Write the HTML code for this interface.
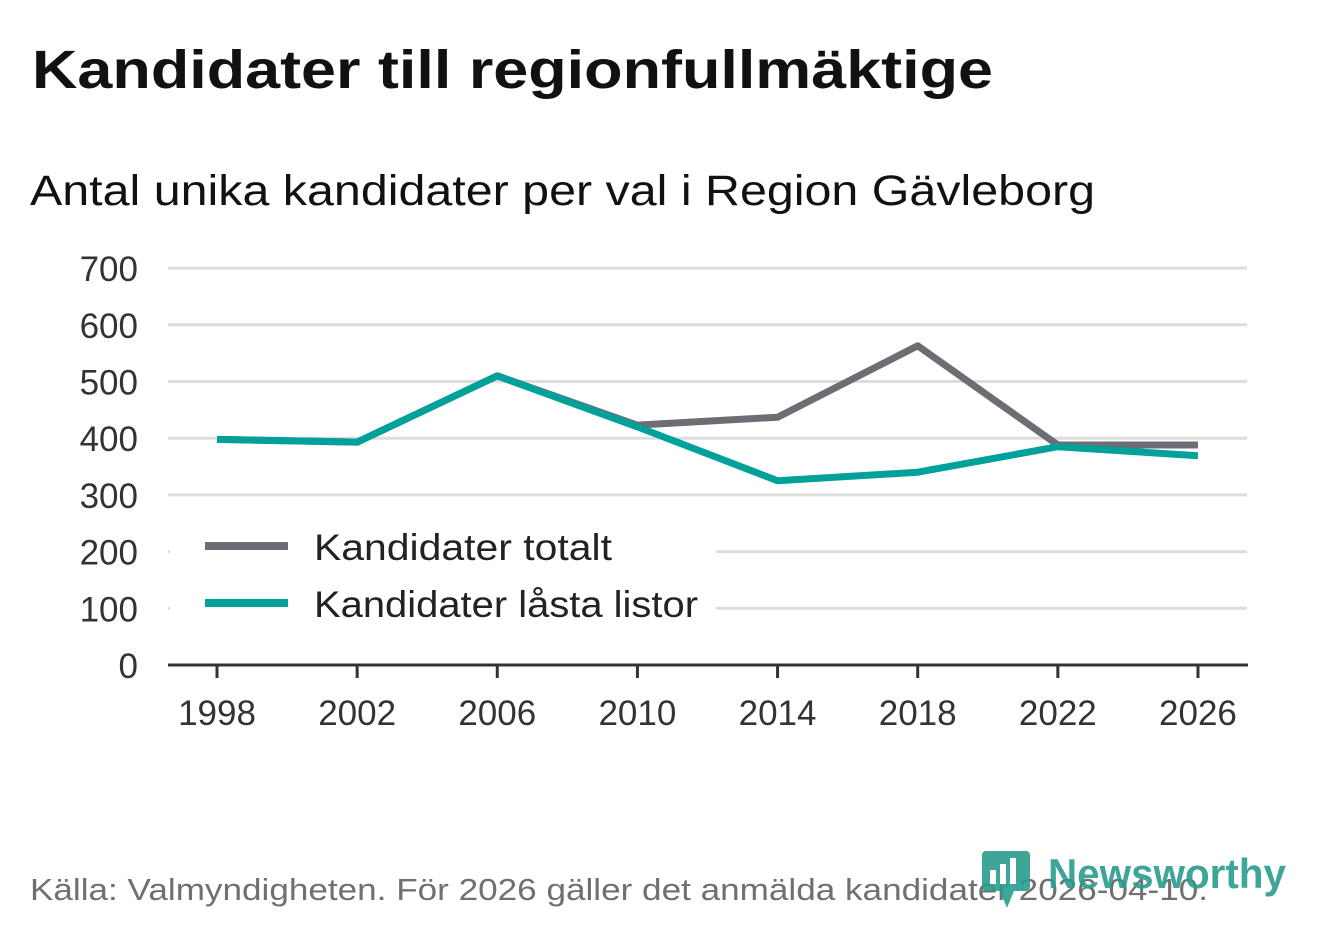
<!DOCTYPE html>
<html><head><meta charset="utf-8"><style>
body{margin:0;background:#fff;width:1322px;height:939px;overflow:hidden;font-family:"Liberation Sans","DejaVu Sans",sans-serif;}
</style></head><body>
<svg id="c" width="1322" height="939" xmlns="http://www.w3.org/2000/svg">
<text x="32" y="88" font-size="54" font-weight="bold" fill="#111" textLength="961" lengthAdjust="spacingAndGlyphs">Kandidater till regionfullmäktige</text>
<text x="30" y="205" font-size="43" fill="#111" textLength="1065" lengthAdjust="spacingAndGlyphs">Antal unika kandidater per val i Region Gävleborg</text>
<g id="grid"></g><g id="lines"></g>
<g id="legend">
<rect x="170" y="520" width="546" height="112" fill="#fff"/>
<line x1="205" y1="546" x2="288" y2="546" stroke="#6e6d73" stroke-width="8"/>
<text x="314" y="560" font-size="37" fill="#222" textLength="298" lengthAdjust="spacingAndGlyphs">Kandidater totalt</text>
<line x1="205" y1="603" x2="288" y2="603" stroke="#00a19a" stroke-width="8"/>
<text x="314" y="617" font-size="37" fill="#222" textLength="384" lengthAdjust="spacingAndGlyphs">Kandidater låsta listor</text>
</g>
<text x="30" y="900" font-size="31" fill="#707070" textLength="1178" lengthAdjust="spacingAndGlyphs">Källa: Valmyndigheten. För 2026 gäller det anmälda kandidater 2026-04-10.</text>
<g opacity="0.9">
<rect x="982" y="851" width="48" height="40" rx="4" fill="#2a9c8e"/>
<polygon points="1000,891 1014,891 1007,908" fill="#2a9c8e"/>
<rect x="990" y="870" width="6" height="14" fill="#fff"/><rect x="1000" y="864" width="6" height="20" fill="#fff"/><rect x="1010" y="858" width="6" height="26" fill="#fff"/>
<text x="1048" y="888" font-size="42" font-weight="bold" fill="#2a9c8e" textLength="238" lengthAdjust="spacingAndGlyphs">Newsworthy</text>
</g>
</svg>
<script>
const years=["1998","2002","2006","2010","2014","2018","2022","2026"];
const totalt=[398,393,510,423,437,563,388,388];
const lasta=[398,393,510,420,325,340,385,369];
const yTicks=[0,100,200,300,400,500,600,700];
const NS="http://www.w3.org/2000/svg";
const x=i=>217+i*140.14;
const y=v=>665-v*0.567;
const grid=document.getElementById('grid'),lines=document.getElementById('lines');
function mk(t,a,p){const e=document.createElementNS(NS,t);for(const k in a)e.setAttribute(k,a[k]);p.appendChild(e);return e;}
yTicks.forEach(v=>{
 if(v>0){const l=mk('line',{x1:168,x2:1247,y1:y(v),y2:y(v),stroke:'#ddd','stroke-width':3},grid);
 
 }
 const t=mk('text',{x:138,y:y(v)+13,'font-size':35,fill:'#333','text-anchor':'end'},grid);t.textContent=v;
 
 
});
const ax=mk('line',{x1:168,x2:1248,y1:665,y2:665,stroke:'#333','stroke-width':3},grid);


years.forEach((yr,i)=>{
 const tk=mk('line',{x1:x(i),x2:x(i),y1:665,y2:678,stroke:'#333','stroke-width':3},grid);
 
 
 const t=mk('text',{x:x(i),y:725,'font-size':35,fill:'#333','text-anchor':'middle'},grid);t.textContent=yr;
 
 
});
function series(d,c,n){
 const p=mk('polyline',{points:d.map((v,i)=>x(i)+','+y(v)).join(' '),fill:'none',stroke:c,'stroke-width':7,'stroke-linejoin':'round'},lines);
 
 
}
series(totalt,'#6e6d73','line-totalt');
series(lasta,'#00a19a','line-lasta-listor');
lines.parentNode.appendChild(document.getElementById('legend'));
</script>
</body></html>
